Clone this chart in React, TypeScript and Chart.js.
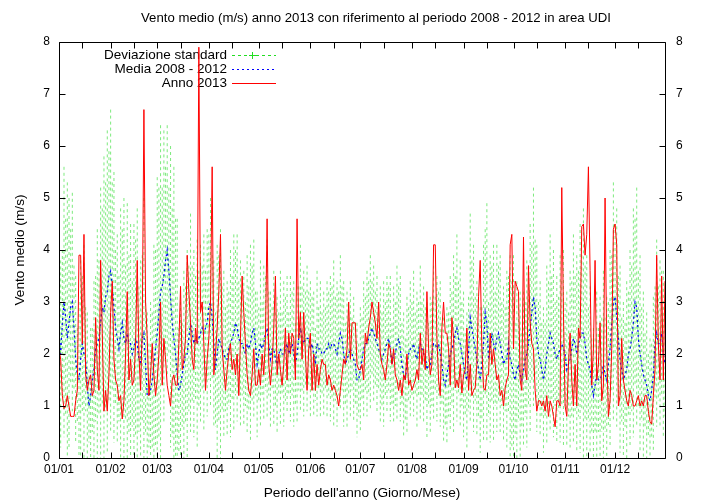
import React, { useEffect, useRef } from "react";
import { Chart, registerables } from "chart.js";

Chart.register(...registerables);

const TITLE = "Vento medio (m/s) anno 2013 con riferimento al periodo 2008 - 2012 in area UDI";
const X_TITLE = "Periodo dell'anno (Giorno/Mese)";
const Y_TITLE = "Vento medio (m/s)";
const SERIES_NAMES = ["Deviazione standard", "Media 2008 - 2012", "Anno 2013"];

const monthStarts = [0, 31, 59, 90, 120, 151, 181, 212, 243, 273, 304, 334];
const monthLabels = ["01/01", "01/02", "01/03", "01/04", "01/05", "01/06", "01/07", "01/08", "01/09", "01/10", "01/11", "01/12"];
const midMonths = [14, 45, 73, 104, 134, 165, 195, 226, 257, 287, 318, 348];
const yTickValues = [0, 1, 2, 3, 4, 5, 6, 7, 8];

const anno2013 = [
  2.1, 1.9, 1.2, 0.95, 1.0, 1.2, 1.0, 0.8, 0.8, 0.8,
  1.1, 1.3, 3.9, 3.9, 2.2, 4.3, 1.6, 1.3, 1.5, 1.6,
  1.2, 1.3, 2.7, 1.7, 1.3, 3.8, 2.4, 0.9, 1.3, 0.9,
  1.6, 2.8, 3.4, 1.9, 1.5, 1.4, 1.1, 1.2, 0.75, 1.1,
  2.0, 3.2, 1.5, 1.9, 1.4, 1.5, 2.2, 3.8, 2.0, 1.3,
  2.5, 6.7, 3.0, 2.3, 1.2, 1.6, 2.2, 1.6, 1.2, 1.5,
  2.0, 3.0, 1.4, 2.3, 1.9, 1.4, 1.2, 1.0, 1.5, 1.6,
  1.4, 1.4, 2.2, 3.3, 1.7, 1.9, 2.3, 3.9, 3.2, 2.6,
  1.9, 1.7, 2.5, 2.2, 7.9, 2.8, 3.0, 2.2, 1.3, 1.9,
  2.3, 3.0, 5.6, 1.6, 2.0, 2.5, 3.2, 4.3, 2.1, 1.7,
  1.3, 1.7, 2.0, 2.2, 1.7, 1.9, 1.6, 2.0, 1.2, 2.3,
  3.5, 2.8, 2.2, 1.6, 1.3, 1.2, 1.6, 2.1, 1.4, 1.4,
  1.7, 1.4, 2.0, 1.6, 2.3, 4.6, 1.8, 1.4, 1.8, 2.5,
  3.5, 1.6, 2.0, 1.7, 1.4, 1.8, 2.5, 1.5, 2.4, 2.0,
  2.4, 2.3, 1.5, 4.6, 2.3, 2.8, 1.9, 2.8, 2.0, 1.3,
  2.1, 2.4, 1.3, 2.0, 1.3, 1.8, 1.4, 1.7, 1.9, 1.8,
  1.8, 1.4, 1.6, 1.5, 1.3, 1.4, 1.3, 1.2, 1.0, 1.3,
  1.6, 1.9, 1.8, 2.1, 3.0, 1.9, 2.6, 2.6, 2.6, 1.8,
  1.7, 1.7, 1.8, 1.5, 2.4, 2.2, 2.5, 2.7, 3.0, 2.8,
  2.6, 2.3, 3.0, 2.0, 1.8, 1.7, 1.5, 1.8, 2.2, 2.1,
  1.8, 2.1, 1.6, 1.5, 1.3, 1.5, 1.2, 1.6, 1.5, 2.0,
  1.4, 1.5, 1.3, 1.4, 1.5, 1.7, 1.5, 2.4, 1.8, 2.1,
  1.7, 3.2, 2.1, 1.6, 1.8, 4.1, 4.1, 2.3, 1.5, 1.2,
  2.5, 3.0, 2.4, 2.4, 2.1, 1.4, 2.7, 2.3, 1.35, 1.5,
  1.35, 1.8, 1.25, 1.6, 1.7, 2.5, 1.3, 1.8, 1.2, 1.3,
  1.35, 1.8, 3.1, 3.8, 2.1, 1.35, 1.3, 1.6, 1.6, 2.4,
  1.8, 2.1, 1.8, 1.5, 1.6, 1.2, 1.3, 1.0, 1.35, 1.5,
  1.6, 4.1, 4.3, 2.1, 3.4, 3.3, 3.2, 1.5, 1.3, 4.25,
  1.7, 1.5, 3.7, 2.6, 2.2, 2.1, 1.3, 0.9, 1.1, 1.1,
  1.0, 1.1, 0.9, 1.2, 0.8, 1.1, 1.0, 0.8, 0.6, 1.1,
  1.1, 1.0, 5.2, 2.8, 1.0, 0.8, 1.8, 2.4, 1.5, 1.0,
  1.8, 1.0, 2.5, 2.3, 4.45, 4.5, 3.9, 4.3, 5.6, 3.6,
  1.4, 2.1, 3.8, 1.5, 1.8, 2.6, 1.1, 1.4, 5.0, 2.1,
  0.8, 1.1, 2.1, 4.4, 4.5, 4.1, 1.0, 1.2, 2.3, 1.5,
  1.3, 1.1, 1.0, 1.3, 1.2, 1.0, 1.0, 1.1, 1.2, 1.0,
  1.1, 1.0, 1.2, 1.2, 0.9, 0.7, 0.65, 1.2, 1.7, 3.9,
  2.2, 1.5, 3.5, 1.5, 3.4,
];

const media2008_2012 = [
  2.4, 2.0, 2.6, 3.0, 2.7, 2.3, 2.6, 2.9, 3.0, 2.5,
  1.9, 1.6, 1.5, 1.9, 2.2, 2.0, 1.9, 1.4, 1.0, 1.2,
  1.5, 1.7, 2.1, 2.2, 2.3, 2.6, 2.9, 2.8, 3.1, 3.2,
  3.5, 3.6, 3.3, 2.9, 2.5, 2.3, 2.1, 2.4, 2.6, 2.3,
  2.2, 2.4, 2.2, 2.2, 2.0, 2.1, 2.3, 2.2, 1.9, 1.8,
  2.3, 2.4, 1.8, 1.2, 1.2, 1.3, 1.5, 1.8, 2.1, 2.4,
  2.8, 3.2, 3.3, 3.5, 3.8, 4.0, 3.6, 3.1, 2.6, 2.3,
  2.0, 1.6, 1.3, 1.4, 1.6, 1.8, 2.0, 2.0, 2.3, 2.6,
  2.4, 2.2, 2.3, 2.2, 2.3, 2.4, 2.5, 2.4, 2.5, 2.6,
  2.9, 3.0, 2.7, 2.2, 1.7, 2.0, 2.3, 2.2, 2.1, 2.0,
  1.9, 1.9, 2.1, 2.2, 2.3, 2.4, 2.6, 2.5, 2.3, 2.2,
  2.2, 2.1, 2.0, 2.2, 2.1, 2.2, 2.4, 2.5, 2.2, 1.8,
  2.0, 2.2, 2.1, 2.2, 2.4, 2.5, 2.2, 1.9, 2.1, 2.1,
  1.9, 1.8, 2.0, 2.1, 2.0, 2.0, 2.1, 2.2, 2.0, 2.1,
  2.2, 2.0, 1.8, 2.0, 2.3, 2.5, 2.3, 2.2, 2.3, 2.3,
  2.3, 2.1, 2.2, 2.0, 1.8, 2.2, 2.1, 2.1, 2.0, 2.0,
  2.1, 2.1, 2.2, 2.1, 2.2, 2.2, 2.1, 2.0, 2.2, 2.4,
  2.3, 2.0, 1.8, 1.9, 2.0, 2.1, 2.0, 1.9, 1.8, 1.5,
  1.5, 1.7, 1.9, 2.1, 2.2, 2.2, 2.3, 2.4, 2.5, 2.4,
  2.3, 2.2, 2.1, 2.0, 1.9, 2.0, 2.1, 2.2, 2.3, 2.1,
  1.8, 2.0, 2.0, 2.2, 2.3, 2.1, 1.8, 1.6, 1.5, 1.8,
  2.0, 2.1, 2.1, 2.2, 2.0, 1.9, 2.1, 2.2, 2.1, 2.0,
  2.0, 1.7, 1.8, 1.8, 2.0, 2.2, 2.2, 2.1, 2.2, 2.0,
  1.8, 1.5, 1.4, 1.6, 1.8, 2.0, 2.1, 2.2, 2.4, 2.5,
  2.3, 2.2, 2.0, 1.8, 1.6, 1.5, 2.0, 2.7, 2.5, 2.3,
  2.1, 1.9, 1.7, 1.5, 1.8, 2.2, 2.8, 2.6, 1.9, 2.1,
  2.4, 2.2, 2.1, 2.3, 2.4, 2.2, 2.0, 1.8, 1.9, 1.9,
  2.2, 1.9, 1.8, 1.6, 1.5, 1.7, 1.8, 1.6, 1.5, 1.7,
  1.9, 2.0, 2.2, 2.5, 2.8, 3.1, 2.9, 2.3, 2.0, 1.9,
  1.7, 1.5, 1.7, 2.0, 2.2, 2.4, 2.3, 2.2, 2.0, 1.9,
  2.0, 2.1, 2.2, 2.1, 2.0, 1.7, 1.8, 1.9, 2.1, 2.3,
  2.2, 2.0, 2.2, 2.3, 2.4, 2.4, 2.2, 1.9, 1.8, 1.7,
  1.4, 1.2, 1.4, 1.6, 1.5, 1.5, 1.6, 1.8, 1.6, 1.5,
  1.8, 2.1, 2.6, 3.0, 3.1, 2.7, 2.3, 1.9, 1.7, 1.5,
  1.6, 1.7, 2.0, 2.1, 2.3, 2.6, 3.0, 2.9, 2.3, 2.0,
  1.8, 1.6, 1.5, 1.4, 1.2, 1.1, 1.3, 1.6, 2.2, 2.4,
  2.2, 2.2, 2.4, 2.0, 1.8,
];

const deviazioneStandard = [
  1.0, 1.8, 1.4, 2.6, 1.9, 3.0, 2.4, 1.5, 2.1, 1.2,
  1.6, 0.9, 1.5, 1.9, 1.3, 2.1, 1.0, 1.4, 0.7, 1.3,
  1.0, 1.7, 1.4, 2.2, 1.5, 2.6, 1.9, 3.0, 2.2, 3.1,
  2.4, 3.1, 2.0, 2.6, 1.5, 2.0, 1.4, 2.4, 1.8, 2.7,
  1.5, 2.5, 1.7, 2.3, 1.4, 2.4, 1.9, 2.6, 1.4, 2.0,
  1.6, 2.6, 1.3, 1.6, 1.0, 1.7, 1.3, 2.3, 1.9, 3.0,
  2.4, 3.2, 1.9, 2.8, 1.8, 2.4, 1.6, 2.9, 2.2, 3.3,
  2.6, 3.0, 1.2, 1.6, 1.0, 1.8, 1.3, 2.0, 1.4, 2.1,
  1.3, 1.8, 1.2, 2.0, 1.3, 1.7, 1.2, 1.9, 1.1, 1.8,
  1.4, 2.0, 1.2, 1.6, 1.1, 2.1, 1.6, 2.2, 1.2, 1.6,
  1.0, 1.5, 1.1, 1.8, 1.2, 1.9, 1.4, 1.8, 1.1, 1.6,
  1.0, 1.5, 1.0, 1.7, 1.2, 1.9, 1.3, 1.7, 1.0, 1.4,
  0.9, 1.6, 0.9, 1.5, 1.1, 1.7, 1.0, 1.3, 0.8, 1.5,
  0.9, 1.3, 0.8, 1.5, 0.8, 1.4, 1.0, 1.3, 0.8, 1.4,
  1.0, 1.4, 0.8, 1.3, 1.0, 1.6, 1.0, 1.4, 0.9, 1.4,
  0.9, 1.3, 0.9, 1.2, 0.7, 1.4, 0.8, 1.3, 0.8, 1.2,
  0.8, 1.3, 1.0, 1.4, 1.1, 1.6, 1.0, 1.4, 1.0, 1.5,
  1.0, 1.4, 0.8, 1.3, 0.8, 1.3, 0.7, 1.2, 0.8, 1.1,
  0.7, 1.2, 0.8, 1.3, 0.9, 1.4, 1.1, 1.5, 0.9, 1.3,
  0.9, 1.3, 0.8, 1.3, 0.9, 1.4, 0.9, 1.3, 1.0, 1.4,
  0.8, 1.3, 1.0, 1.5, 1.0, 1.4, 0.8, 1.2, 0.8, 1.3,
  0.9, 1.3, 0.9, 1.4, 0.8, 1.3, 0.9, 1.5, 0.9, 1.3,
  0.9, 1.3, 0.8, 1.3, 1.0, 1.5, 0.9, 1.4, 1.0, 1.4,
  0.8, 1.2, 0.8, 1.3, 1.0, 1.5, 1.1, 1.7, 1.1, 1.8,
  1.1, 1.6, 1.0, 1.4, 0.8, 1.3, 1.1, 2.0, 1.3, 1.8,
  1.0, 1.5, 0.9, 1.4, 1.1, 1.9, 1.6, 2.3, 1.1, 1.8,
  1.3, 1.9, 1.1, 1.8, 1.3, 1.7, 1.0, 1.5, 1.0, 1.7,
  1.3, 2.0, 1.6, 2.3, 1.1, 1.7, 1.1, 1.6, 0.9, 1.5,
  1.1, 1.8, 1.2, 2.0, 1.3, 2.1, 1.3, 1.8, 1.0, 1.5,
  0.9, 1.4, 0.9, 1.7, 1.2, 1.9, 1.2, 1.8, 1.0, 1.6,
  1.1, 1.8, 1.2, 1.9, 1.0, 1.5, 1.0, 1.7, 1.3, 2.0,
  1.3, 1.9, 1.4, 2.2, 1.5, 2.4, 1.5, 2.0, 1.1, 1.6,
  0.9, 1.3, 0.9, 1.6, 1.0, 1.6, 1.1, 1.8, 1.1, 1.6,
  1.2, 1.9, 1.3, 2.3, 1.4, 2.1, 1.2, 1.8, 1.0, 1.5,
  1.0, 1.7, 1.2, 1.9, 1.4, 2.2, 1.6, 2.3, 1.3, 1.9,
  1.1, 1.6, 0.9, 1.4, 0.8, 1.2, 0.9, 1.5, 1.1, 1.8,
  1.1, 1.6, 1.2, 1.6, 1.0,
];

const RED = "#ff0000";
const BLUE = "#0000ff";
const GREEN = "#22dd22";
const GREEN_BAR = "rgba(40, 220, 40, 0.6)";
const FONT = "'Liberation Sans', Arial, Helvetica, sans-serif";

const gnuplotPlugin = {
  id: "gnuplotStyle",
  beforeDatasetsDraw(chart: any) {
    const ctx = chart.ctx;
    const xs = chart.scales.x;
    const ys = chart.scales.y;
    const area = chart.chartArea;

    // title
    ctx.save();
    ctx.font = `13.2px ${FONT}`;
    ctx.fillStyle = "#000";
    ctx.textAlign = "center";
    ctx.textBaseline = "middle";
    ctx.fillText(TITLE, 376, 18);
    ctx.restore();

    // standard deviation error bars
    ctx.save();
    ctx.beginPath();
    ctx.rect(area.left, area.top, area.right - area.left, area.bottom - area.top);
    ctx.clip();
    ctx.strokeStyle = GREEN_BAR;
    ctx.lineWidth = 1;
    ctx.setLineDash([3, 3]);
    for (let i = 0; i < media2008_2012.length; i++) {
      const m = media2008_2012[i];
      const s = deviazioneStandard[i];
      const px = xs.getPixelForValue(i);
      ctx.beginPath();
      ctx.moveTo(px, ys.getPixelForValue(m + s));
      ctx.lineTo(px, ys.getPixelForValue(Math.max(0, m - s)));
      ctx.stroke();
    }
    ctx.restore();

    // key text
    ctx.save();
    ctx.font = `13.5px ${FONT}`;
    ctx.fillStyle = "#000";
    ctx.textAlign = "right";
    ctx.textBaseline = "middle";
    const rows = [55, 69, 83];
    SERIES_NAMES.forEach((name, k) => ctx.fillText(name, 227, rows[k]));
    ctx.restore();
  },
  afterDraw(chart: any) {
    const ctx = chart.ctx;
    const xs = chart.scales.x;
    const ys = chart.scales.y;
    const area = chart.chartArea;

    // key samples
    ctx.save();
    const rows = [55, 69, 83];
    const s0 = 232;
    const s1 = 276;
    ctx.lineWidth = 1;
    ctx.strokeStyle = GREEN;
    ctx.setLineDash([3, 3]);
    ctx.beginPath();
    ctx.moveTo(s0, rows[0] + 0.5);
    ctx.lineTo(s1, rows[0] + 0.5);
    ctx.stroke();
    ctx.setLineDash([]);
    ctx.beginPath();
    ctx.moveTo(252.5, rows[0] - 3);
    ctx.lineTo(252.5, rows[0] + 4);
    ctx.moveTo(249, rows[0] + 0.5);
    ctx.lineTo(256, rows[0] + 0.5);
    ctx.stroke();
    ctx.strokeStyle = BLUE;
    ctx.setLineDash([2, 3]);
    ctx.beginPath();
    ctx.moveTo(s0, rows[1] + 0.5);
    ctx.lineTo(s1, rows[1] + 0.5);
    ctx.stroke();
    ctx.strokeStyle = RED;
    ctx.setLineDash([]);
    ctx.beginPath();
    ctx.moveTo(s0, rows[2] + 0.5);
    ctx.lineTo(s1, rows[2] + 0.5);
    ctx.stroke();
    ctx.restore();

    // border and inward ticks
    ctx.save();
    ctx.strokeStyle = "#000";
    ctx.lineWidth = 1;
    ctx.setLineDash([]);
    const L = Math.round(area.left) + 0.5;
    const R = Math.round(area.right) + 0.5;
    const T = Math.round(area.top) + 0.5;
    const B = Math.round(area.bottom) + 0.5;
    ctx.beginPath();
    ctx.rect(L, T, R - L, B - T);
    ctx.stroke();
    const tick = 6;
    ctx.beginPath();
    [...monthStarts, ...midMonths].forEach((d) => {
      const px = Math.round(xs.getPixelForValue(d)) + 0.5;
      ctx.moveTo(px, B);
      ctx.lineTo(px, B - tick);
      ctx.moveTo(px, T);
      ctx.lineTo(px, T + tick);
    });
    yTickValues.forEach((v) => {
      const py = Math.round(ys.getPixelForValue(v)) + 0.5;
      ctx.moveTo(L, py);
      ctx.lineTo(L + tick, py);
      ctx.moveTo(R, py);
      ctx.lineTo(R - tick, py);
    });
    ctx.stroke();
    ctx.restore();
  },
};

export default function App() {
  const canvasRef = useRef<HTMLCanvasElement | null>(null);

  useEffect(() => {
    const canvas = canvasRef.current;
    if (!canvas) return;
    const toPoints = (arr: number[]) => arr.map((v, i) => ({ x: i, y: v }));
    const tickFont = { family: FONT, size: 12 };
    const labelFont = { family: FONT, size: 13.7 };

    const chart = new Chart(canvas, {
      type: "line",
      data: {
        datasets: [
          {
            label: SERIES_NAMES[2],
            data: toPoints(anno2013),
            borderColor: RED,
            borderWidth: 1,
            pointRadius: 0,
            tension: 0,
            order: 0,
          },
          {
            label: SERIES_NAMES[1],
            data: toPoints(media2008_2012),
            borderColor: BLUE,
            borderWidth: 1.2,
            borderDash: [2, 3],
            pointRadius: 0,
            tension: 0,
            order: 1,
          },
          {
            label: SERIES_NAMES[0],
            data: toPoints(media2008_2012),
            borderColor: GREEN_BAR,
            borderWidth: 1,
            borderDash: [3, 3],
            pointRadius: 0,
            tension: 0,
            order: 2,
          },
        ],
      },
      options: {
        responsive: false,
        animation: false,
        events: [],
        layout: { padding: { top: 42, left: 0, right: 0, bottom: 0 } },
        plugins: {
          legend: { display: false },
          tooltip: { enabled: false },
          title: { display: false },
        },
        scales: {
          x: {
            type: "linear",
            min: 0,
            max: 364,
            afterBuildTicks: (scale: any) => {
              scale.ticks = monthStarts.map((v) => ({ value: v }));
            },
            afterFit: (scale: any) => {
              scale.height = 46;
            },
            ticks: {
              autoSkip: false,
              maxRotation: 0,
              minRotation: 0,
              color: "#000",
              font: tickFont,
              padding: 4,
              callback: (v: any) => {
                const idx = monthStarts.indexOf(Number(v));
                return idx >= 0 ? monthLabels[idx] : "";
              },
            },
            grid: { display: false, drawTicks: false },
            border: { display: false },
            title: {
              display: true,
              text: X_TITLE,
              color: "#000",
              font: labelFont,
              padding: { top: 4, bottom: 3 },
            },
          },
          y: {
            type: "linear",
            position: "left",
            min: 0,
            max: 8,
            afterBuildTicks: (scale: any) => {
              scale.ticks = yTickValues.map((v) => ({ value: v }));
            },
            afterFit: (scale: any) => {
              scale.width = 59;
            },
            ticks: { color: "#000", font: tickFont, padding: 9 },
            grid: { display: false, drawTicks: false },
            border: { display: false },
            title: {
              display: true,
              text: Y_TITLE,
              color: "#000",
              font: labelFont,
              padding: { top: 12, bottom: 0 },
            },
          },
          y2: {
            type: "linear",
            position: "right",
            min: 0,
            max: 8,
            afterBuildTicks: (scale: any) => {
              scale.ticks = yTickValues.map((v) => ({ value: v }));
            },
            afterFit: (scale: any) => {
              scale.width = 55;
            },
            ticks: { color: "#000", font: tickFont, padding: 11 },
            grid: { display: false, drawTicks: false },
            border: { display: false },
          },
        },
      },
      plugins: [gnuplotPlugin],
    } as any);

    return () => {
      chart.destroy();
    };
  }, []);

  return (
    <div style={{ position: "fixed", left: 0, top: 0, width: 720, height: 504, background: "#fff" }}>
      <canvas ref={canvasRef} width={720} height={504} style={{ display: "block" }} />
    </div>
  );
}
